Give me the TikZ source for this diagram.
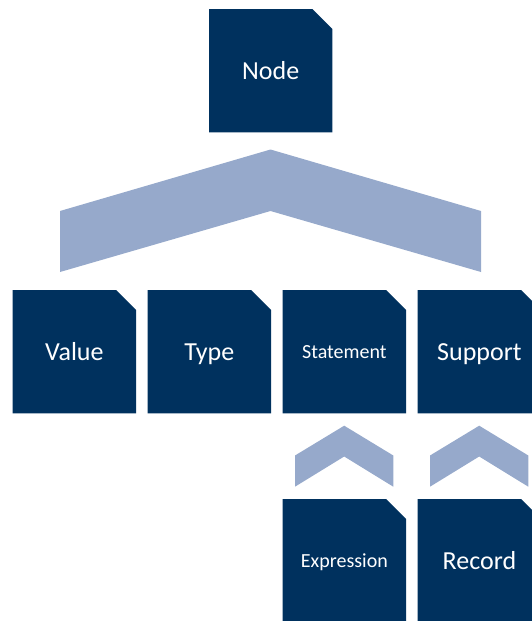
\documentclass[tikz,border=0pt]{standalone}
\usepackage{fontspec}
\setmainfont{Carlito}
\usetikzlibrary{backgrounds}
\definecolor{navy}{RGB}{0,49,94}
\definecolor{chev}{RGB}{150,169,203}
\tikzset{
  docbox/.style={minimum width=123pt,minimum height=123pt,inner sep=0pt,text=white,anchor=north west,text depth=0pt},
  bigtext/.style={font=\fontsize{26}{30}\selectfont,text height=16.7pt},
  smalltext/.style={font=\fontsize{20}{24}\selectfont,text height=12.9pt},
  chevron/.style={fill=chev},
  docfill/.style={fill=navy},
}
\newcommand\docshape[1]{\fill[docfill] (#1.south west) -- (#1.north west) -- ([xshift=-20pt]#1.north east) -- ([yshift=-20pt]#1.north east) -- (#1.south east) -- cycle;}
\begin{document}
\begin{tikzpicture}[x=1pt,y=-1pt]
\path[use as bounding box] (0,0) rectangle (531,621);
\clip (0,0) rectangle (531,621);
\node[docbox,bigtext] (node) at (209,9) {Node};
\node[docbox,bigtext] (value) at (12.7,290) {Value};
\node[docbox,bigtext] (type) at (147.7,290) {Type};
\node[docbox,smalltext] (statement) at (282.7,290) {Statement};
\node[docbox,bigtext] (support) at (417.7,290) {Support};
\node[docbox,smalltext] (expression) at (282.7,499) {Expression};
\node[docbox,bigtext] (record) at (417.7,499) {Record};
\begin{scope}[on background layer]
\foreach \n in {node,value,type,statement,support,expression,record}{\docshape{\n}}
\end{scope}
\fill[chevron] (60,211) -- (270.5,149.5) -- (481,211) -- (481,272) -- (270.5,211) -- (60,272) -- cycle;
\fill[chevron] (295,455.5) -- (344.2,425.7) -- (393.3,455.5) -- (393.3,486.7) -- (344.2,456.5) -- (295,486.7) -- cycle;
\fill[chevron] (430,455.5) -- (479.2,425.7) -- (528.3,455.5) -- (528.3,486.7) -- (479.2,456.5) -- (430,486.7) -- cycle;
\end{tikzpicture}
\end{document}
